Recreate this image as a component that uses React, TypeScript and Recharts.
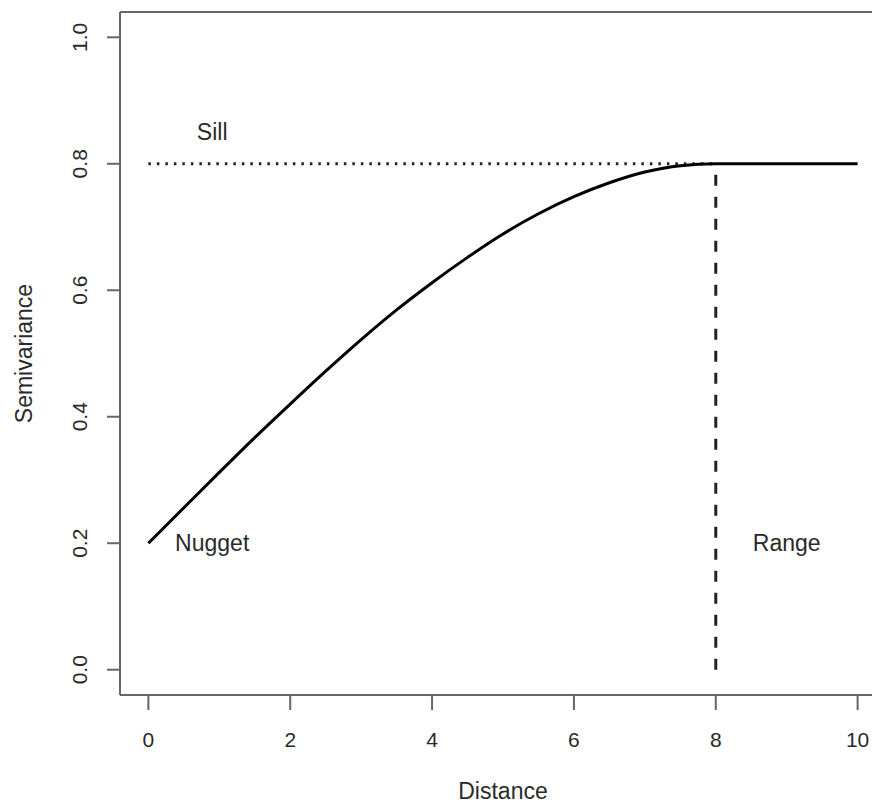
import { LineChart, Line, XAxis, YAxis, ReferenceLine, ReferenceDot } from "recharts";

// distances and semivariance
const distance = [0, 0.5, 1, 1.5, 2, 2.5, 3, 3.5, 4, 4.5, 5, 5.5, 6, 6.5, 7, 7.5, 8, 10];
const semivariance = [
  0.2, 0.256, 0.312, 0.367, 0.42, 0.472, 0.522, 0.569, 0.612, 0.652, 0.689, 0.721, 0.748, 0.77, 0.787,
  0.797, 0.8, 0.8,
];

const xTicks = [0, 2, 4, 6, 8, 10];
const yTicks = [0, 0.2, 0.4, 0.6, 0.8, 1];
const yTickLabels = ["0.0", "0.2", "0.4", "0.6", "0.8", "1.0"];

const nugget = 0.2;
const sill = 0.8;
const range = 8;

// text annotations: [label, x, y]
const notes: [string, number, number][] = [
  ["Sill", 0.9, 0.85],
  ["Nugget", 0.9, 0.2],
  ["Range", 9, 0.2],
];

const data = distance.map((d, i) => ({ d, g: semivariance[i] }));

const FONT = "'Liberation Sans', Arial, sans-serif";
const AXIS = "#666";
const TEXT = "#2a2a2a";

const XTick = (props: any) => {
  const { x, y, payload } = props;
  return (
    <g>
      <line x1={x} x2={x} y1={y} y2={y + 15} stroke={AXIS} strokeWidth={2} />
      <text x={x} y={y + 52} textAnchor="middle" fontSize={21} fill={TEXT} fontFamily={FONT}>
        {payload.value}
      </text>
    </g>
  );
};

const YTick = (props: any) => {
  const { x, y, payload } = props;
  const i = yTicks.indexOf(payload.value);
  const tx = x - 40;
  return (
    <g>
      <line x1={x - 13} x2={x} y1={y} y2={y} stroke={AXIS} strokeWidth={2} />
      <text
        x={tx}
        y={y}
        dy="0.35em"
        textAnchor="middle"
        fontSize={21}
        fill={TEXT}
        fontFamily={FONT}
        transform={`rotate(-90 ${tx} ${y})`}
      >
        {yTickLabels[i]}
      </text>
    </g>
  );
};

const noteLabel = (text: string) => (props: any) => {
  const { viewBox } = props;
  return (
    <text
      x={viewBox.cx ?? viewBox.x}
      y={viewBox.cy ?? viewBox.y}
      dy="0.35em"
      textAnchor="middle"
      fontSize={23}
      fill={TEXT}
      fontFamily={FONT}
    >
      {text}
    </text>
  );
};

export default function App() {
  return (
    <div style={{ position: "absolute", left: 0, top: 0, width: 872, height: 806, overflow: "hidden", background: "#fff" }}>
      <LineChart width={900} height={806} data={data} margin={{ top: 12, right: 14, bottom: 0, left: 0 }}>
        <XAxis
          type="number"
          dataKey="d"
          domain={[-0.4, 10.4]}
          ticks={xTicks}
          axisLine={false}
          tickLine={false}
          tickSize={0}
          tickMargin={0}
          height={111}
          tick={<XTick />}
          interval={0}
          label={({ viewBox }: any) => (
            <text
              x={viewBox.x + viewBox.width / 2}
              y={799}
              textAnchor="middle"
              fontSize={23}
              fill={TEXT}
              fontFamily={FONT}
            >
              Distance
            </text>
          )}
        />
        <YAxis
          type="number"
          domain={[-0.04, 1.04]}
          ticks={yTicks}
          axisLine={false}
          tickLine={false}
          tickSize={0}
          tickMargin={0}
          width={120}
          tick={<YTick />}
          interval={0}
          label={({ viewBox }: any) => {
            const cy = viewBox.y + viewBox.height / 2;
            return (
              <text
                x={24}
                y={cy}
                dy="0.35em"
                textAnchor="middle"
                fontSize={23}
                fill={TEXT}
                fontFamily={FONT}
                transform={`rotate(-90 24 ${cy})`}
              >
                Semivariance
              </text>
            );
          }}
        />
        {/* plot frame: left, top and bottom edges (right edge lies outside the picture) */}
        <ReferenceLine
          segment={[{ x: -0.4, y: -0.04 }, { x: -0.4, y: 1.04 }]}
          stroke={AXIS}
          strokeWidth={2}
          ifOverflow="visible"
        />
        <ReferenceLine
          segment={[{ x: -0.4, y: 1.04 }, { x: 10.4, y: 1.04 }]}
          stroke={AXIS}
          strokeWidth={2}
          ifOverflow="visible"
        />
        <ReferenceLine
          segment={[{ x: -0.4, y: -0.04 }, { x: 10.4, y: -0.04 }]}
          stroke={AXIS}
          strokeWidth={2}
          ifOverflow="visible"
        />
        <ReferenceLine
          segment={[{ x: 0, y: sill }, { x: range, y: sill }]}
          stroke="#222"
          strokeWidth={3}
          strokeDasharray="2.5 6"
        />
        <ReferenceLine
          segment={[{ x: range, y: 0 }, { x: range, y: sill }]}
          stroke="#222"
          strokeWidth={3}
          strokeDasharray="11 11"
        />
        <Line
          type="monotone"
          dataKey="g"
          stroke="#000"
          strokeWidth={3}
          dot={false}
          isAnimationActive={false}
        />
        {notes.map(([t, x, y]) => (
          <ReferenceDot key={t} x={x} y={y} r={0} stroke="none" fill="none" label={noteLabel(t)} />
        ))}
        <ReferenceDot x={0} y={nugget} r={0} stroke="none" fill="none" />
      </LineChart>
    </div>
  );
}
